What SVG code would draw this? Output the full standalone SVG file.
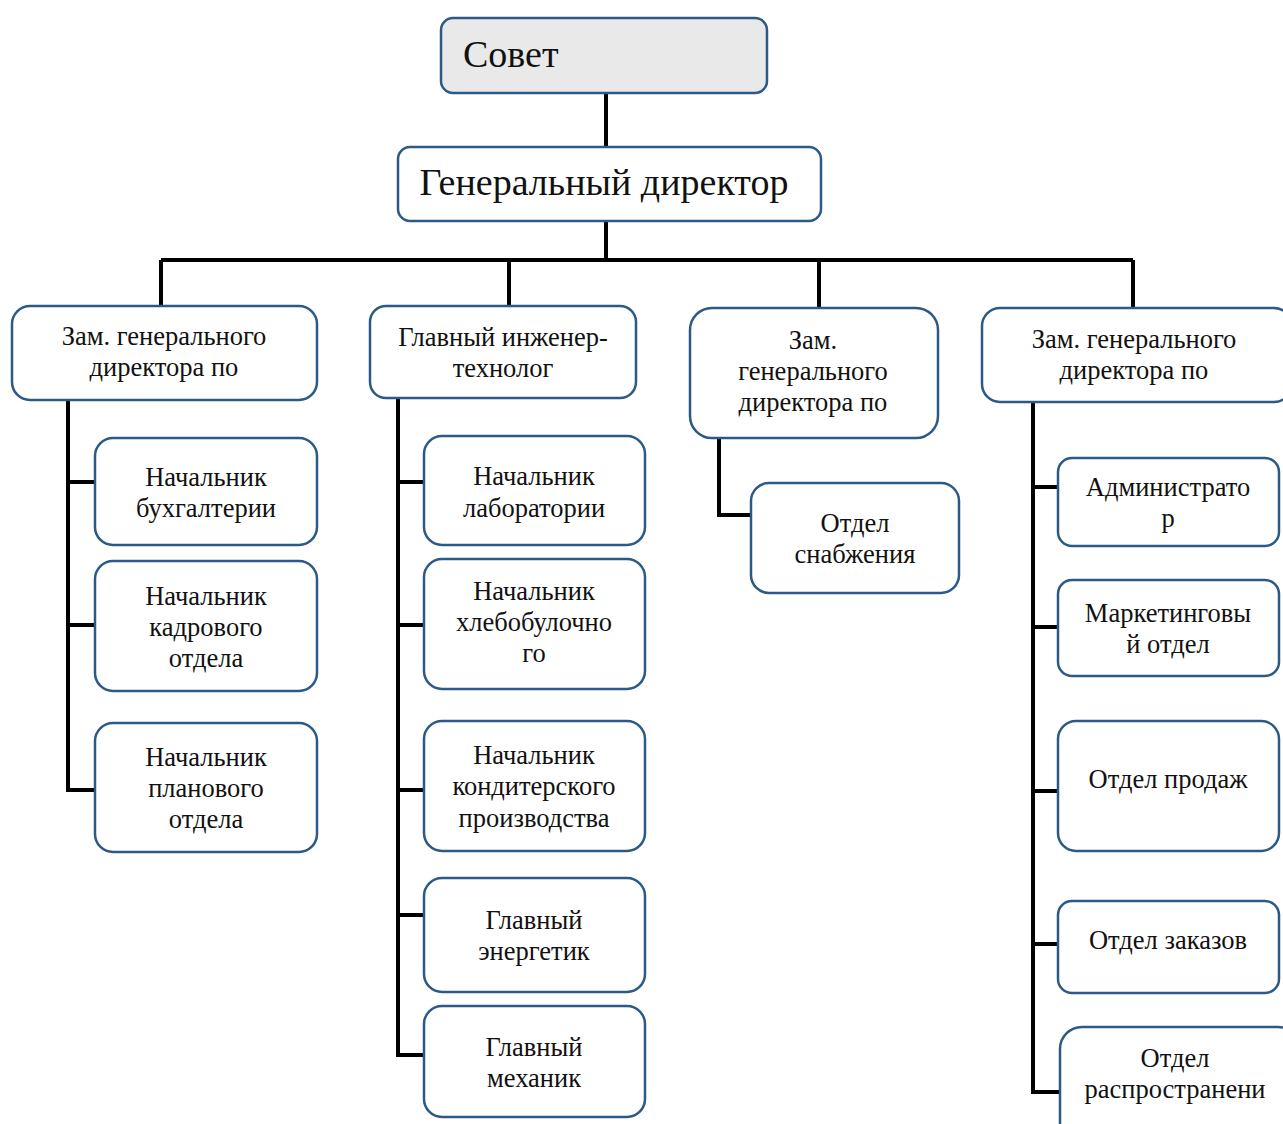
<svg xmlns="http://www.w3.org/2000/svg" width="1283" height="1124" viewBox="0 0 1283 1124">
<style>
.b{fill:#fff;stroke:#2c5a87;stroke-width:2.5}
.g{fill:#e9e9e9;stroke:#2c5a87;stroke-width:2.5}
text{font-family:"Liberation Serif","Times New Roman",serif;fill:#111;text-anchor:middle;font-size:26.5px}
.L{font-size:38px}
#conn path{fill:none;stroke:#000;stroke-width:4}
</style>
<rect width="1283" height="1124" fill="#fff"/>
<g id="conn">
<path d="M606 93V147M606 221V260M161 260H1133M161 260V306M509 260V306M819 260V308M1133 260V308"/>
<path d="M68 400V790H95M68 482H95M68 625H95"/>
<path d="M398 398V1055H424M398 482H424M398 625H424M398 790H424M398 915H424"/>
<path d="M719 438V515H751"/>
<path d="M1033 402V1092H1060M1033 487H1058M1033 627H1058M1033 791H1058M1033 944H1058"/>
</g>
<g id="sovet"><rect class="g" x="441" y="18" width="326" height="75" rx="12"/><text class="L" x="463" y="67" style="text-anchor:start">Совет</text></g>
<g id="gendir"><rect class="b" x="398" y="147" width="423" height="74" rx="12"/><text class="L" x="604" y="195">Генеральный директор</text></g>
<g id="zam1"><rect class="b" x="12" y="306" width="305" height="94" rx="18"/><text x="164" y="345">Зам. генерального</text><text x="164" y="376">директора по</text></g>
<g id="glinzh"><rect class="b" x="370" y="306" width="266" height="92" rx="16"/><text x="503" y="346">Главный инженер-</text><text x="503" y="377">технолог</text></g>
<g id="zam2"><rect class="b" x="690" y="308" width="248" height="130" rx="22"/><text x="813" y="349">Зам.</text><text x="813" y="380">генерального</text><text x="813" y="411">директора по</text></g>
<g id="zam3"><rect class="b" x="982" y="308" width="310" height="94" rx="18"/><text x="1134" y="348">Зам. генерального</text><text x="1134" y="379">директора по</text></g>
<g id="buh"><rect class="b" x="95" y="438" width="222" height="107" rx="18"/><text x="206" y="486">Начальник</text><text x="206" y="517">бухгалтерии</text></g>
<g id="kadr"><rect class="b" x="95" y="561" width="222" height="130" rx="18"/><text x="206" y="605">Начальник</text><text x="206" y="636">кадрового</text><text x="206" y="667">отдела</text></g>
<g id="plan"><rect class="b" x="95" y="723" width="222" height="129" rx="18"/><text x="206" y="766">Начальник</text><text x="206" y="797">планового</text><text x="206" y="828">отдела</text></g>
<g id="lab"><rect class="b" x="424" y="436" width="221" height="109" rx="18"/><text x="534" y="485">Начальник</text><text x="534" y="517">лаборатории</text></g>
<g id="hleb"><rect class="b" x="424" y="559" width="221" height="130" rx="18"/><text x="534" y="600">Начальник</text><text x="534" y="631">хлебобулочно</text><text x="534" y="662">го</text></g>
<g id="kond"><rect class="b" x="424" y="721" width="221" height="130" rx="18"/><text x="534" y="764">Начальник</text><text x="534" y="795">кондитерского</text><text x="534" y="827">производства</text></g>
<g id="energ"><rect class="b" x="424" y="878" width="221" height="114" rx="18"/><text x="534" y="929">Главный</text><text x="534" y="960">энергетик</text></g>
<g id="meh"><rect class="b" x="424" y="1006" width="221" height="111" rx="18"/><text x="534" y="1056">Главный</text><text x="534" y="1087">механик</text></g>
<g id="snab"><rect class="b" x="751" y="483" width="208" height="110" rx="18"/><text x="855" y="532">Отдел</text><text x="855" y="563">снабжения</text></g>
<g id="adm"><rect class="b" x="1058" y="458" width="221" height="88" rx="14"/><text x="1168" y="496">Администрато</text><text x="1168" y="527">р</text></g>
<g id="mark"><rect class="b" x="1058" y="580" width="221" height="96" rx="14"/><text x="1168" y="622">Маркетинговы</text><text x="1168" y="653">й отдел</text></g>
<g id="prod"><rect class="b" x="1058" y="721" width="221" height="130" rx="18"/><text x="1168" y="788">Отдел продаж</text></g>
<g id="zak"><rect class="b" x="1058" y="901" width="221" height="92" rx="14"/><text x="1168" y="949">Отдел заказов</text></g>
<g id="rasp"><rect class="b" x="1060" y="1027" width="240" height="130" rx="22"/><text x="1175" y="1067">Отдел</text><text x="1175" y="1098">распространени</text></g>
</svg>
